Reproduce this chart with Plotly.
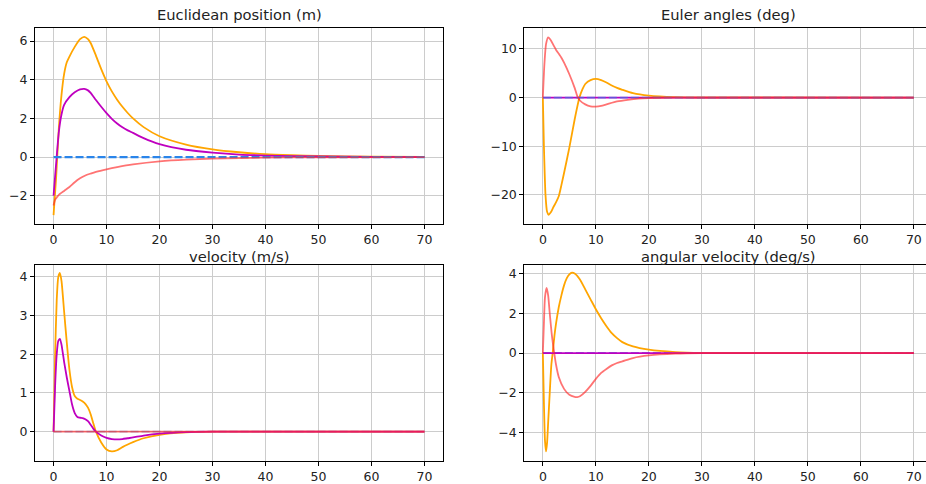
import plotly.graph_objects as go

# ---------------- data ----------------
# Euclidean position (m)
pos_t_x = [0, 0.5, 1, 1.5, 2, 2.5, 3, 4, 5, 5.8, 6.5, 7, 8, 9, 10, 11, 12, 13, 14, 15, 17, 20, 25, 30, 35, 40, 45, 50, 60, 70]
pos_x = [-3.0, -1.0, 1.5, 3.2, 4.3, 4.9, 5.2, 5.7, 6.1, 6.22, 6.1, 5.9, 5.25, 4.55, 3.92, 3.4, 2.97, 2.6, 2.28, 2.0, 1.55, 1.08, 0.65, 0.4, 0.25, 0.15, 0.1, 0.06, 0.02, 0.01]
pos_t_y = [0, 0.5, 1, 1.5, 2, 3, 4, 5, 5.8, 6.5, 7, 8, 9, 10, 11, 12, 13, 14, 15, 17, 20, 25, 30, 35, 40, 50, 60, 70]
pos_y = [-2.0, -0.3, 1.3, 2.2, 2.7, 3.1, 3.35, 3.5, 3.53, 3.45, 3.32, 2.95, 2.6, 2.27, 1.98, 1.74, 1.54, 1.38, 1.25, 0.98, 0.67, 0.38, 0.23, 0.13, 0.08, 0.03, 0.01, 0.0]
pos_t_z = [0, 0.3, 0.7, 1, 2, 3, 4, 5, 6, 7, 8, 10, 12, 15, 20, 25, 30, 40, 50, 70]
pos_z = [-2.5, -2.2, -2.05, -1.95, -1.75, -1.55, -1.3, -1.1, -0.95, -0.85, -0.76, -0.63, -0.52, -0.38, -0.22, -0.13, -0.08, -0.03, -0.01, 0.0]

# Euler angles (deg)
eul_t_r = [0, 0.3, 0.6, 1.0, 1.5, 2, 2.5, 3, 3.5, 4, 5, 6, 6.5, 7, 8, 9, 10, 11, 12, 14, 16, 18, 20, 25, 30, 70]
eul_r = [0, 7, 11, 12.4, 11.8, 10.8, 9.8, 9.0, 8.2, 7.2, 4.8, 2.0, 0.3, -0.6, -1.4, -1.8, -1.85, -1.7, -1.4, -0.8, -0.45, -0.2, -0.1, -0.02, 0, 0]
eul_t_o = [0, 0.2, 0.5, 0.8, 1.1, 1.5, 2, 2.5, 3, 3.5, 4, 5, 6, 6.9, 7.5, 8, 9, 10, 11, 12, 13, 14, 15, 17, 20, 25, 30, 70]
eul_o = [0, -10, -20, -23.5, -24.1, -23.6, -22.5, -21.5, -20.3, -18, -15.5, -10.3, -4.5, 0, 1.8, 2.8, 3.6, 3.85, 3.6, 3.1, 2.5, 2.0, 1.6, 0.9, 0.4, 0.1, 0.02, 0]
eul_t_m = [0, 70]
eul_m = [0, 0]

# velocity (m/s)
vel_t = [0, 0.3, 0.6, 0.9, 1.2, 1.5, 2, 2.5, 3, 3.5, 4, 4.5, 5, 5.5, 6, 6.5, 7, 7.5, 8, 9, 10, 11, 12, 13, 14, 15, 17, 20, 25, 30, 70]
vel_o = [0, 2.0, 3.4, 4.0, 4.1, 3.9, 3.1, 2.3, 1.6, 1.15, 0.92, 0.85, 0.82, 0.78, 0.72, 0.62, 0.45, 0.22, 0.0, -0.28, -0.46, -0.51, -0.48, -0.4, -0.33, -0.27, -0.17, -0.08, -0.02, 0, 0]
vel_m = [0, 1.2, 2.0, 2.35, 2.4, 2.25, 1.8, 1.4, 1.05, 0.7, 0.48, 0.38, 0.36, 0.35, 0.32, 0.27, 0.18, 0.08, 0.0, -0.1, -0.16, -0.19, -0.2, -0.19, -0.17, -0.15, -0.1, -0.05, -0.01, 0, 0]
vel_t_r = [0, 70]
vel_r = [0, 0]

# angular velocity (deg/s)
ang_t_r = [0, 0.2, 0.4, 0.7, 1.0, 1.3, 1.7, 2.15, 2.5, 3, 4, 5, 6, 6.5, 7, 8, 9, 10, 11, 12, 13, 14, 15, 17, 20, 25, 30, 70]
ang_r = [0, 1.5, 2.8, 3.28, 2.9, 2.0, 0.9, 0, -0.6, -1.2, -1.8, -2.1, -2.2, -2.21, -2.17, -1.95, -1.65, -1.3, -1.0, -0.8, -0.62, -0.5, -0.42, -0.25, -0.12, -0.03, 0, 0]
ang_t_o = [0, 0.2, 0.4, 0.6, 0.8, 1.0, 1.3, 1.6, 1.85, 2.2, 2.5, 3, 3.5, 4, 4.5, 5, 5.5, 6, 7, 8, 9, 10, 11, 12, 13, 14, 15, 17, 20, 25, 30, 70]
ang_o = [0, -2.5, -4.4, -4.94, -4.5, -3.5, -2.0, -0.6, 0, 0.9, 1.5, 2.3, 2.9, 3.4, 3.75, 3.95, 4.04, 4.0, 3.7, 3.2, 2.7, 2.2, 1.75, 1.35, 1.0, 0.75, 0.55, 0.33, 0.17, 0.05, 0.01, 0]
ang_t_m = [0, 70]
ang_m = [0, 0]

ref_t = [0, 70]
ref_v = [0, 0]

titles = ["Euclidean position (m)", "Euler angles (deg)", "velocity (m/s)", "angular velocity (deg/s)"]
x_ticks = [0, 10, 20, 30, 40, 50, 60, 70]
y_ticks = [[-2, 0, 2, 4, 6], [-20, -10, 0, 10], [0, 1, 2, 3, 4], [-4, -2, 0, 2, 4]]
y_ranges = [[-3.46, 6.66], [-26.0, 14.25], [-0.75, 4.315], [-5.41, 4.44]]

# ---------------- style ----------------
ORANGE = "#FFA500"
MAGENTA = "#BF00BF"
RED = "rgba(255,40,40,0.65)"
BLUE = "#2a85ea"
LW = 1.8
W, H = 926, 484

fig = go.Figure()

def line(x, y, color, ax, dash=None, opacity=1.0, shape="spline", width=LW):
    fig.add_trace(go.Scatter(
        x=x, y=y, mode="lines", xaxis="x" + ax, yaxis="y" + ax,
        line=dict(color=color, width=width, dash=dash, shape=shape, smoothing=0.6),
        opacity=opacity, showlegend=False, hoverinfo="skip"))

# subplot 1
line(pos_t_x, pos_x, ORANGE, "")
line(pos_t_y, pos_y, MAGENTA, "")
line(ref_t, ref_v, BLUE, "", dash="8px,3px", shape="linear", width=2.2)
line(pos_t_z, pos_z, RED, "")
# subplot 2
line(eul_t_o, eul_o, ORANGE, "2")
line(eul_t_m, eul_m, MAGENTA, "2", shape="linear")
line(ref_t, ref_v, BLUE, "2", dash="8px,3px", opacity=0.6, shape="linear")
line(eul_t_r, eul_r, RED, "2")
# subplot 3
line(ref_t, ref_v, BLUE, "3", dash="8px,3px", opacity=0.5, shape="linear")
line(vel_t, vel_o, ORANGE, "3")
line(vel_t, vel_m, MAGENTA, "3")
line(vel_t_r, vel_r, RED, "3", shape="linear")
# subplot 4
line(ref_t, ref_v, BLUE, "4", dash="8px,3px", shape="linear")
line(ang_t_o, ang_o, ORANGE, "4")
line(ang_t_m, ang_m, MAGENTA, "4", shape="linear")
line(ang_t_r, ang_r, RED, "4")

# domains in pixels
xl = [35 / W, 443 / W]
xr = [524.3 / W, 1.0]
yt = [1 - 224 / H, 1 - 28.3 / H]
yb = [1 - 460.7 / H, 1 - 264.7 / H]

font_tick = dict(family="DejaVu Sans", size=12.5, color="#222")

def xax(domain, anchor, rng, mirror):
    return dict(domain=domain, anchor=anchor, range=rng, tickvals=x_ticks,
                showgrid=True, gridcolor="#cccccc", gridwidth=1, zeroline=False,
                showline=True, linecolor="black", linewidth=1, mirror=mirror,
                ticks="outside", ticklen=4, tickcolor="black", tickfont=font_tick)

def yax(domain, anchor, i, mirror):
    return dict(domain=domain, anchor=anchor, range=y_ranges[i], tickvals=y_ticks[i],
                showgrid=True, gridcolor="#cccccc", gridwidth=1, zeroline=False,
                showline=True, linecolor="black", linewidth=1, mirror=mirror,
                ticks="outside", ticklen=4, tickcolor="black", tickfont=font_tick)

xr_range = [-3.5, -3.5 + (926 - 524.3) / 5.3]

fig.update_layout(
    width=W, height=H,
    margin=dict(l=0, r=0, t=0, b=0),
    paper_bgcolor="white", plot_bgcolor="white",
    xaxis=xax(xl, "y", [-3.5, 73.5], True),
    yaxis=yax(yt, "x", 0, True),
    xaxis2=xax(xr, "y2", xr_range, True),
    yaxis2=yax(yt, "x2", 1, False),
    xaxis3=xax(xl, "y3", [-3.5, 73.5], True),
    yaxis3=yax(yb, "x3", 2, True),
    xaxis4=xax(xr, "y4", xr_range, True),
    yaxis4=yax(yb, "x4", 3, False),
)

title_pos = [(239, 15), (728, 15), (239, 256), (728, 256)]
for txt, (px, py) in zip(titles, title_pos):
    fig.add_annotation(text=txt, xref="paper", yref="paper", x=px / W, y=1 - py / H,
                       xanchor="center", yanchor="middle", showarrow=False,
                       font=dict(family="DejaVu Sans", size=14.7, color="#222"))

fig.write_html("out.html")
